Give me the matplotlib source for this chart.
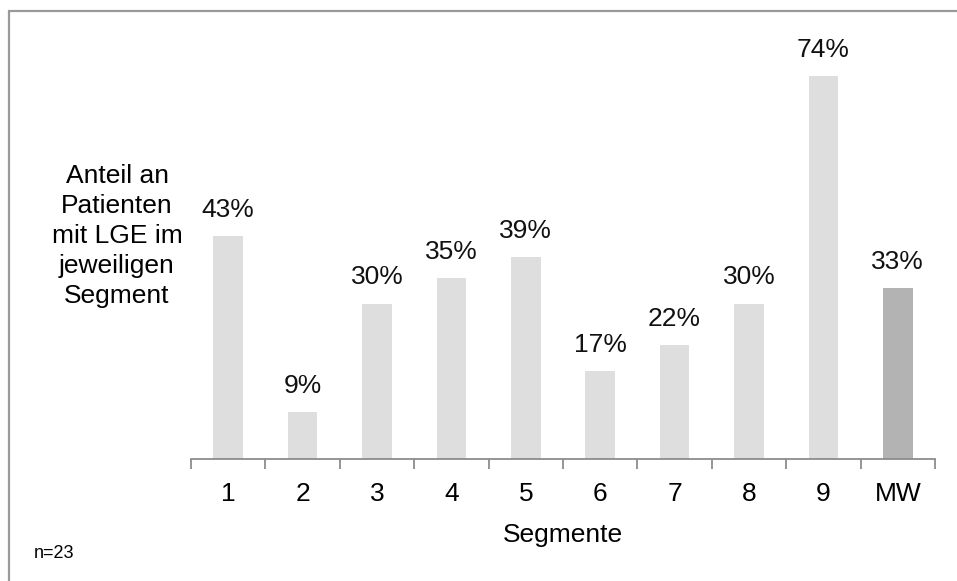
import matplotlib
matplotlib.use("Agg")
import matplotlib.pyplot as plt
from matplotlib.patches import Rectangle

plt.rcParams['font.family'] = ['Liberation Sans', 'DejaVu Sans']

categories = ["1", "2", "3", "4", "5", "6", "7", "8", "9", "MW"]
values = [43, 9, 30, 35, 39, 17, 22, 30, 74, 33]
bar_colors = ["#DEDEDE"] * 9 + ["#B3B3B3"]

W, H = 957, 581
FS = 19
fig = plt.figure(figsize=(W / 100, H / 100), dpi=100)

# outer frame (top and left edges visible)
fig.patches.append(Rectangle((8.5 / W, -0.1), 1.2, 1.1 - 10.5 / H,
                             transform=fig.transFigure, fill=False,
                             edgecolor="#9A9A9A", linewidth=1.6))

ax = fig.add_axes([191 / W, 1 - 459 / H, (935 - 191) / W, (459 - 44.6) / H])
x = list(range(len(categories)))
ax.bar(x, values, width=0.4, color=bar_colors)
ax.set_xlim(-0.5, len(categories) - 0.5)
ax.set_ylim(0, 80)

for xi, v in zip(x, values):
    ax.text(xi, v + 3.7, f"{v}%", ha="center", va="baseline", fontsize=FS, color="#111111")

for side in ["top", "right", "left"]:
    ax.spines[side].set_visible(False)
ax.spines["bottom"].set_color("#8C8C8C")
ax.spines["bottom"].set_linewidth(1.3)
ax.set_yticks([])
ax.set_xticks(x)
ax.set_xticklabels(categories, fontsize=FS)
ax.tick_params(axis="x", length=0, pad=16.5)
# category separator ticks
ax.set_xticks([i - 0.5 for i in range(len(categories) + 1)], minor=True)
ax.tick_params(axis="x", which="minor", length=7, width=1.3, color="#8C8C8C", direction="out")

ax.set_xlabel("Segmente", fontsize=FS, labelpad=12.5)

fig.text(117 / W, 1 - 236 / H, "Anteil an\nPatienten\nmit LGE im\njeweiligen\nSegment",
         ha="center", va="center", fontsize=FS, linespacing=1.32)
fig.text(34 / W, 1 - 553 / H, "n=23", ha="left", va="center", fontsize=13)

fig.savefig("out.png", dpi=100)
